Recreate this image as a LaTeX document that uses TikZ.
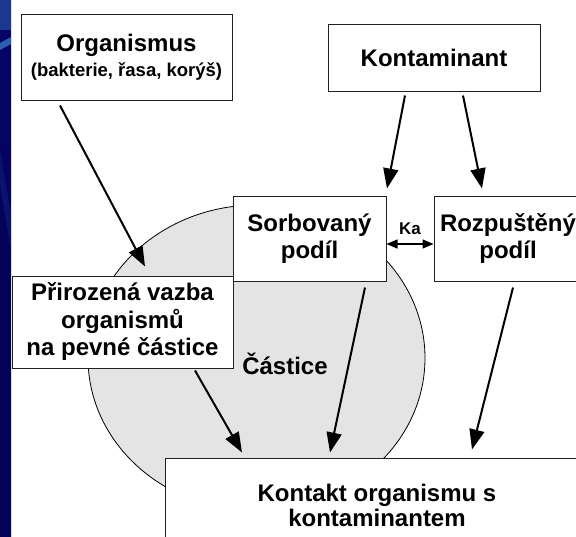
\documentclass[tikz,border=0pt]{standalone}
\usepackage{fontspec}
\setmainfont{Liberation Sans}
\usetikzlibrary{arrows.meta,calc,shapes.geometric}

\definecolor{stripnavy}{HTML}{06066A}
\definecolor{stripdeep}{HTML}{020258}
\definecolor{swoosh}{HTML}{2E5FAE}
\definecolor{particle}{HTML}{E4E4E4}
\definecolor{boxline}{HTML}{202020}

\tikzset{
  box/.style={draw=boxline, line width=1pt, fill=white, rectangle,
    align=center, inner sep=0pt, font=\bfseries\fontsize{24}{27.5}\selectfont},
  flow/.style={line width=2pt, -{Triangle[length=20pt,width=15pt]}},
  link/.style={line width=1.3pt, {Triangle[length=11pt,width=9pt]}-{Triangle[length=11pt,width=9pt]}},
  tag/.style={font=\bfseries\fontsize{17}{19}\selectfont, inner sep=0pt},
}

\begin{document}
\begin{tikzpicture}[x=1pt,y=-1pt]
\useasboundingbox (0,0) rectangle (576,536);
\clip (0,0) rectangle (576,536);

% slide strip on the left edge
\shade[top color=stripnavy, bottom color=stripdeep, middle color=stripdeep]
  (0,0) rectangle (11,536);
\fill[swoosh!55!stripnavy] (0,0) rectangle (11,30);
\fill[swoosh] (0,43) -- (11,37) -- (11,44) -- (0,50) -- cycle;
\fill[stripnavy!70!swoosh, opacity=0.5] (0,150) -- (11,215) -- (11,250) -- (0,185) -- cycle;

% the particle
\draw[fill=particle, line width=0.8pt] (256.5,358) ellipse [x radius=168.5, y radius=153];
\node[font=\bfseries\fontsize{24}{27}\selectfont, inner sep=0pt] (castice) at (285,364) {Částice};

% boxes
\node[box, minimum width=211pt, minimum height=86pt] (org) at (126.5,57)
  {Organismus\\[-3pt]{\fontsize{18.5}{21}\selectfont(bakterie, řasa, korýš)}};
\node[box, minimum width=212pt, minimum height=67pt] (kont) at (434,57.5) {Kontaminant};
\node[box, minimum width=153pt, minimum height=85pt] (sorb) at (309.5,238.5) {Sorbovaný\\podíl};
\node[box, minimum width=148pt, minimum height=85pt] (rozp) at (508,238.5) {Rozpuštěný\\podíl};
\node[box, minimum width=221pt, minimum height=92pt] (prir) at (122.5,322)
  {Přirozená vazba\\organismů\\na pevné částice};
\node[box, minimum width=424pt, minimum height=94pt,
      font=\bfseries\fontsize{24}{25}\selectfont] (kontakt) at (377,505)
  {Kontakt organismu s\\kontaminantem};

% connectors
\draw[flow] ($(org.south)+(-66.5,5)$) -- ($(prir.north)+(22.5,-9)$);
\draw[flow] ($(kont.south)+(-29,4)$) -- ($(sorb.north)+(77.5,-7)$);
\draw[flow] ($(kont.south)+(29,4)$) -- ($(rozp.north)+(-26,-7)$);
\draw[link] ($(sorb.east)+(0,5.5)$) -- node[tag, above=9pt] (ka) {Ka} ($(rozp.west)+(0,5.5)$);
\draw[flow] ($(sorb.south)+(55.5,6)$) -- ($(kontakt.north)+(-47,-5)$);
\draw[flow] ($(prir.south)+(72.5,2)$) -- ($(kontakt.north)+(-135,-5)$);
\draw[flow] ($(rozp.south)+(5,6)$) -- ($(kontakt.north)+(95,-8)$);
\end{tikzpicture}
\end{document}
